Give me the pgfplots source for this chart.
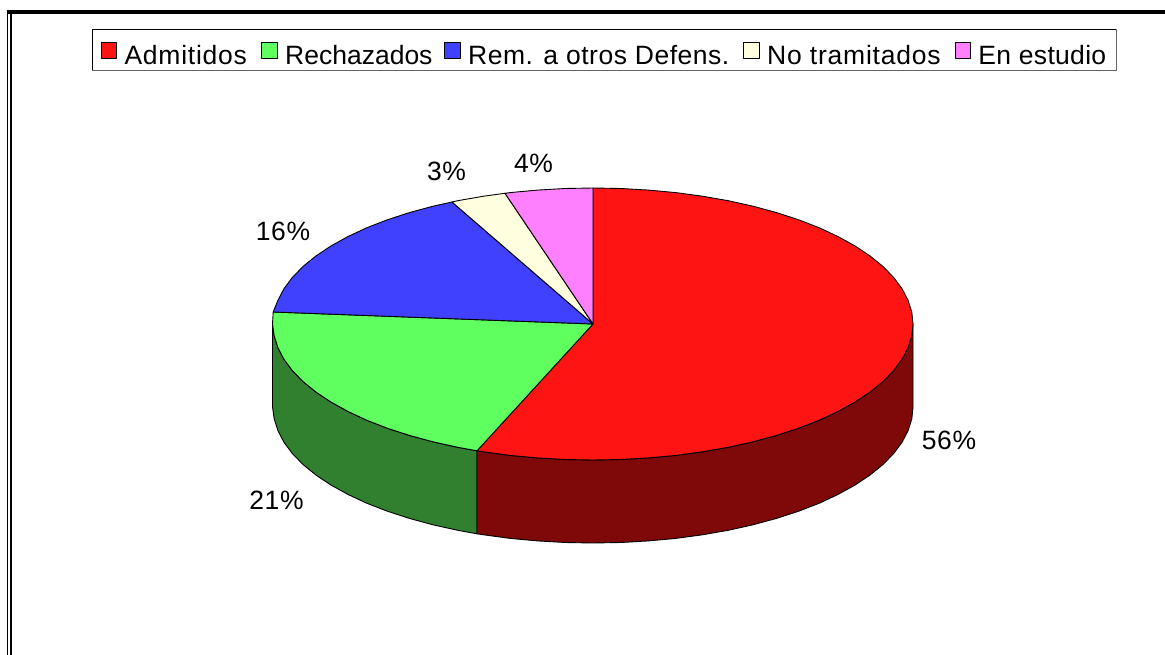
\documentclass[border=0pt]{standalone}
\usepackage{pgfplots}
\pgfplotsset{compat=1.18}
\usepackage{fontspec}
\setmainfont[LetterSpace=2.5]{Liberation Sans}
\definecolor{cRed}{HTML}{FF1414}
\definecolor{cGreen}{HTML}{60FF60}
\definecolor{cBlue}{HTML}{4040FF}
\definecolor{cCream}{HTML}{FFFFE0}
\definecolor{cPink}{HTML}{FF80FF}
\definecolor{cDarkRed}{HTML}{7F0808}
\definecolor{cDarkGreen}{HTML}{308030}
\newcommand{\lgent}[3]{\makebox[#1pt][l]{\addfontfeature{LetterSpace=#2}\rule[-5.7pt]{0pt}{41.4pt}#3}}
\begin{document}
\begin{tikzpicture}
\begin{axis}[
  at={(0pt,0pt)}, anchor=south west,
  width=1165pt, height=655pt, scale only axis,
  xmin=0, xmax=1165, ymin=0, ymax=655, y dir=reverse,
  hide axis, clip=false,
  legend columns=5,
  legend cell align=left,
  legend style={at={(axis cs:100.3,28.8)}, anchor=north west, draw=none, fill=none,
    font=\fontsize{26.5}{28}\selectfont, inner sep=0pt, nodes={inner sep=0pt, outer sep=0pt},
    /tikz/column 1/.style={column sep=7.3pt},
    /tikz/column 2/.style={column sep=14.3pt},
    /tikz/column 3/.style={column sep=7.3pt},
    /tikz/column 4/.style={column sep=13.5pt},
    /tikz/column 5/.style={column sep=7.3pt},
    /tikz/column 6/.style={column sep=16pt},
    /tikz/column 7/.style={column sep=7.3pt},
    /tikz/column 8/.style={column sep=14.8pt},
    /tikz/column 9/.style={column sep=7.3pt}},
  legend image code/.code={\draw[#1,line width=0.8pt] (0.4pt,-10.6pt) rectangle (16.3pt,5pt);},
  every axis plot/.append style={line width=0.9pt, line join=round},
]
% side walls
\addplot[draw=black, fill=cDarkGreen, forget plot] coordinates {
(477,450.8)(457.8,447.3)(433,441.8)(409.4,435.4)(387.3,428.2)(366.7,420.2)(347.9,411.4)(330.9,402)(315.9,392)(303,381.5)(292.3,370.5)(283.9,359.2)(277.9,347.6)(274.2,335.9)(272.5,324)
(272.5,407)(274.2,418.9)(277.9,430.6)(283.9,442.2)(292.3,453.5)(303,464.5)(315.9,475)(330.9,485)(347.9,494.4)(366.7,503.2)(387.3,511.2)(409.4,518.4)(433,524.8)(457.8,530.3)(477,533.8)
} -- cycle;
\addplot[draw=black, fill=cDarkRed, forget plot] coordinates {
(913,324)(911.8,335.9)(908.1,347.6)(902.1,359.2)(893.7,370.5)(883,381.5)(870.1,392)(855.1,402)(838.1,411.4)(819.3,420.2)(798.7,428.2)(776.6,435.4)(753,441.8)(728.2,447.3)(702.4,451.8)(675.8,455.4)(648.6,457.9)(620.9,459.5)(593,460)(565.1,459.5)(537.4,457.9)(510.2,455.4)(483.6,451.8)(477,450.8)
(477,533.8)(483.6,534.8)(510.2,538.4)(537.4,540.9)(565.1,542.5)(593,543)(620.9,542.5)(648.6,540.9)(675.8,538.4)(702.4,534.8)(728.2,530.3)(753,524.8)(776.6,518.4)(798.7,511.2)(819.3,503.2)(838.1,494.4)(855.1,485)(870.1,475)(883,464.5)(893.7,453.5)(902.1,442.2)(908.1,430.6)(911.8,418.9)(913,407)
} -- cycle;
% top slices
\addplot[draw=black, fill=cRed] coordinates {
(593,324)(593,188)(620.9,188.5)(648.6,190.1)(675.8,192.6)(702.4,196.2)(728.2,200.7)(753,206.2)(776.6,212.6)(798.7,219.8)(819.3,227.8)(838.1,236.6)(855.1,246)(870.1,256)(883,266.5)(893.7,277.5)(902.1,288.8)(908.1,300.4)(911.8,312.1)(913,324)(911.8,335.9)(908.1,347.6)(902.1,359.2)(893.7,370.5)(883,381.5)(870.1,392)(855.1,402)(838.1,411.4)(819.3,420.2)(798.7,428.2)(776.6,435.4)(753,441.8)(728.2,447.3)(702.4,451.8)(675.8,455.4)(648.6,457.9)(620.9,459.5)(593,460)(565.1,459.5)(537.4,457.9)(510.2,455.4)(483.6,451.8)(477,450.8)
} -- cycle;
\addplot[draw=black, fill=cGreen] coordinates {
(593,324)(477,450.8)(457.8,447.3)(433,441.8)(409.4,435.4)(387.3,428.2)(366.7,420.2)(347.9,411.4)(330.9,402)(315.9,392)(303,381.5)(292.3,370.5)(283.9,359.2)(277.9,347.6)(274.2,335.9)(272.5,324)(273.2,312)
} -- cycle;
\addplot[draw=black, fill=cBlue] coordinates {
(593,324)(273.2,312)(277.9,300.4)(283.9,288.8)(292.3,277.5)(303,266.5)(315.9,256)(330.9,246)(347.9,236.6)(366.7,227.8)(387.3,219.8)(409.4,212.6)(433,206.2)(452,202)
} -- cycle;
\addplot[draw=black, fill=cCream] coordinates {
(593,324)(452,202)(457.8,200.7)(483.6,196.2)(505,193.3)
} -- cycle;
\addplot[draw=black, fill=cPink] coordinates {
(593,324)(505,193.3)(510.2,192.6)(537.4,190.1)(565.1,188.5)(593,188)
} -- cycle;
\legend{\lgent{122.4}{2.9}{Admitidos},\lgent{145.5}{0}{Rechazados},\lgent{259}{1.9}{Rem. a otros Defens.},\lgent{172.5}{2.9}{No tramitados},\lgent{127}{1.2}{En estudio}}
% labels
\node[font=\fontsize{26.5}{28}\selectfont] at (axis cs:949,440.5) {56\%};
\node[font=\fontsize{26.5}{28}\selectfont] at (axis cs:276.5,500.5) {21\%};
\node[font=\fontsize{26.5}{28}\selectfont] at (axis cs:283,231.5) {16\%};
\node[font=\fontsize{26.5}{28}\selectfont] at (axis cs:446.5,171.5) {3\%};
\node[font=\fontsize{26.5}{28}\selectfont] at (axis cs:533.5,163.5) {4\%};
% legend frame
\draw[black, line width=0.9pt] (axis cs:92.3,70.7) -- (axis cs:92.3,29.3) -- (axis cs:1116.7,29.3);
\draw[black!60, line width=1.2pt] (axis cs:92.3,70.7) -- (axis cs:1116.7,70.7) -- (axis cs:1116.7,29.3);
% outer frame
\draw[black, line width=4pt] (axis cs:6.7,12) -- (axis cs:1165,12);
\draw[black, line width=1.6pt] (axis cs:7.5,10) -- (axis cs:7.5,655);
\draw[black, line width=1.6pt] (axis cs:11.2,14) -- (axis cs:11.2,655);
\end{axis}
\pgfresetboundingbox
\path[use as bounding box] (0pt,0pt) rectangle (1165pt,655pt);
\end{tikzpicture}
\end{document}
